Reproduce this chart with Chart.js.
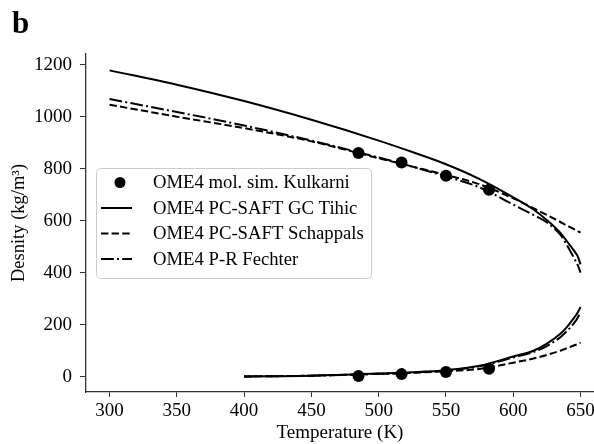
<!DOCTYPE html>
<html>
<head>
<meta charset="utf-8">
<script src="https://cdn.jsdelivr.net/npm/chart.js@4"></script>
<style>
  html, body { margin: 0; padding: 0; background: #fff; }
  #wrap { width: 594px; height: 444px; }
</style>
</head>
<body>
<div id="wrap"><canvas id="densityChart" width="594" height="444"></canvas></div>
<script>
// OME4 coexistence densities (liquid and vapour branch) vs temperature

const simT = [485, 517, 550, 582];
const simLiquid = [860, 824, 773, 719];
const simVapour = [3, 10, 18, 31];

const liqT = [300, 350, 400, 450, 500, 525, 550, 575, 600, 615, 625, 635, 640, 645, 648, 650];
const tihicLiq = [1178, 1123, 1060, 988, 908, 864, 817, 760, 690, 643, 602, 553, 520, 486, 462, 432];
const schappalsLiq = [1046, 1000, 956, 905, 840, 808, 776, 740, 686, 648, 622, 595, 581, 568, 560, 554];
const fechterLiq = [1068, 1018, 966, 908, 843, 808, 770, 728, 662, 622, 593, 546, 505, 458, 428, 400];

const vapT = [400, 450, 500, 525, 550, 575, 600, 615, 625, 635, 640, 645, 648, 650];
const tihicVap = [1, 4, 12, 17, 25, 42, 78, 100, 127, 165, 192, 225, 248, 268];
const schappalsVap = [1, 4, 11, 15, 21, 30, 54, 70, 84, 100, 110, 120, 126, 131];
const fechterVap = [1, 4, 11, 16, 24, 40, 74, 95, 118, 152, 176, 205, 228, 248];

const xTicks = [300, 350, 400, 450, 500, 550, 600, 650];
const yTicks = [0, 200, 400, 600, 800, 1000, 1200];

const serif = "'Liberation Serif', 'Times New Roman', serif";
const DASHED = [7.4, 3.2];
const DASHDOT = [12.8, 3.2, 2, 3.2];

const pts = (xs, ys) => xs.map((x, i) => ({ x: x, y: ys[i] }));

function curve(label, xs, ys, dash, inLegend) {
  return {
    label: label,
    data: pts(xs, ys),
    showLine: true,
    borderColor: '#000',
    borderWidth: 2,
    borderDash: dash,
    pointRadius: 0,
    cubicInterpolationMode: 'monotone',
    inLegend: inLegend
  };
}

// framed legend sitting inside the plot, left side
const boxLegend = {
  id: 'boxLegend',
  afterDatasetsDraw(chart) {
    const ctx = chart.ctx;
    const items = chart.data.datasets.filter(d => d.inLegend);
    const x0 = 96, y0 = 168, w = 275, h = 110, rowH = 25.5;
    ctx.save();
    ctx.beginPath();
    ctx.roundRect(x0 + 0.5, y0 + 0.5, w, h, 4);
    ctx.fillStyle = 'rgba(255,255,255,0.85)';
    ctx.fill();
    ctx.strokeStyle = '#cccccc';
    ctx.lineWidth = 1;
    ctx.stroke();

    ctx.font = '18.7px ' + serif;
    ctx.textBaseline = 'middle';
    ctx.fillStyle = '#000';
    items.forEach((d, i) => {
      const cy = y0 + 14.5 + i * rowH;
      if (d.showLine === false) {
        ctx.beginPath();
        ctx.arc(120, cy, 5.5, 0, Math.PI * 2);
        ctx.fill();
      } else {
        ctx.beginPath();
        ctx.setLineDash(d.borderDash || []);
        ctx.lineWidth = 2;
        ctx.strokeStyle = '#000';
        ctx.moveTo(101, cy);
        ctx.lineTo(132, cy);
        ctx.stroke();
        ctx.setLineDash([]);
      }
      ctx.fillText(d.label, 153, cy + 1);
    });
    ctx.restore();
  }
};

// panel letter
const panelTag = {
  id: 'panelTag',
  afterDraw(chart) {
    const ctx = chart.ctx;
    ctx.save();
    ctx.font = 'bold 31px ' + serif;
    ctx.fillStyle = '#000';
    ctx.textBaseline = 'alphabetic';
    ctx.fillText('b', 12, 33);
    ctx.restore();
  }
};

const noPad = s => { s.paddingLeft = 0; s.paddingRight = 0; s.paddingTop = 0; s.paddingBottom = 0; };

new Chart(document.getElementById('densityChart'), {
  type: 'scatter',
  data: {
    datasets: [
      {
        label: 'OME4 mol. sim. Kulkarni',
        data: pts(simT, simLiquid).concat(pts(simT, simVapour)),
        showLine: false,
        pointRadius: 6,
        pointHoverRadius: 6,
        pointBackgroundColor: '#000',
        pointBorderColor: '#000',
        pointBorderWidth: 0,
        inLegend: true
      },
      curve('OME4 PC-SAFT GC Tihic', liqT, tihicLiq, [], true),
      curve('Tihic vap', vapT, tihicVap, [], false),
      curve('OME4 PC-SAFT Schappals', liqT, schappalsLiq, DASHED, true),
      curve('Schappals vap', vapT, schappalsVap, DASHED, false),
      curve('OME4 P-R Fechter', liqT, fechterLiq, DASHDOT, true),
      curve('Fechter vap', vapT, fechterVap, DASHDOT, false)
    ]
  },
  options: {
    responsive: false,
    animation: false,
    devicePixelRatio: 1,
    layout: { autoPadding: false, padding: { top: 54, right: 0, left: 0, bottom: 0 } },
    plugins: {
      legend: { display: false },
      tooltip: { enabled: false }
    },
    scales: {
      x: {
        type: 'linear',
        min: 282.5,
        max: 660,
        afterFit: s => { s.height = 52; noPad(s); },
        afterBuildTicks: s => { s.ticks = xTicks.map(v => ({ value: v })); },
        grid: { display: true, drawOnChartArea: false, drawTicks: true, tickLength: 5, color: '#333', tickWidth: 1 },
        border: { display: true, color: '#333', width: 1.3 },
        ticks: { color: '#000', font: { family: serif, size: 19 }, padding: 3, maxRotation: 0, callback: v => String(v) },
        title: { display: true, text: 'Temperature (K)', color: '#000', font: { family: serif, size: 19, lineHeight: 1.2 }, padding: { top: 1, bottom: 0 } }
      },
      y: {
        type: 'linear',
        min: -58.75,
        max: 1241,
        afterFit: s => { s.width = 86; noPad(s); },
        afterBuildTicks: s => { s.ticks = yTicks.map(v => ({ value: v })); },
        grid: { display: true, drawOnChartArea: false, drawTicks: true, tickLength: 6, color: '#333', tickWidth: 1 },
        border: { display: true, color: '#333', width: 1.3 },
        ticks: { color: '#000', font: { family: serif, size: 19 }, padding: 8, callback: v => String(v) },
        title: { display: true, text: 'Desnity (kg/m³)', color: '#000', font: { family: serif, size: 18.5, lineHeight: 1.2 }, padding: { top: 8, bottom: 0 } }
      }
    }
  },
  plugins: [boxLegend, panelTag]
});
</script>
</body>
</html>
